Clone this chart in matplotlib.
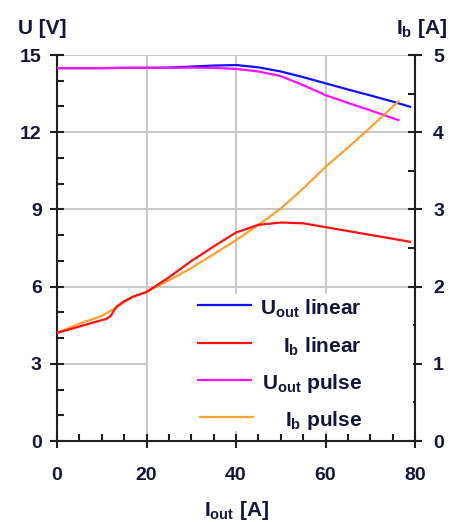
import matplotlib
matplotlib.use("Agg")
import matplotlib.pyplot as plt
from matplotlib.ticker import MultipleLocator
from matplotlib.patches import Rectangle

plt.rcParams["font.family"] = ["Liberation Sans", "DejaVu Sans"]
plt.rcParams["font.weight"] = "bold"
plt.rcParams["mathtext.fontset"] = "custom"
plt.rcParams["mathtext.rm"] = "Liberation Sans:bold"
plt.rcParams["mathtext.bf"] = "Liberation Sans:bold"
plt.rcParams["mathtext.it"] = "Liberation Sans:bold"

# Output voltage, linear regulation
i_u_lin = [0, 5, 10, 15, 20, 25, 30, 35, 40, 45, 50, 55, 60, 65, 70, 75, 78.9]
u_lin = [14.49, 14.49, 14.49, 14.50, 14.50, 14.51, 14.55, 14.59, 14.61, 14.52,
         14.36, 14.14, 13.90, 13.66, 13.43, 13.19, 12.99]

# Output voltage, pulse regulation
i_u_pul = [0, 5, 10, 15, 20, 25, 30, 35, 40, 45, 50, 55, 60, 65, 70, 76.3]
u_pul = [14.49, 14.49, 14.49, 14.50, 14.50, 14.50, 14.51, 14.50, 14.46, 14.36,
         14.18, 13.83, 13.44, 13.14, 12.85, 12.47]

# Base current, linear regulation
i_b_lin_x = [0, 3, 6, 9, 11, 12, 13.3, 15, 17, 20, 25, 30, 35, 40, 45, 50,
             55, 60, 65, 70, 75, 78.9]
ib_lin = [1.40, 1.45, 1.50, 1.55, 1.58, 1.62, 1.74, 1.81, 1.87, 1.93, 2.12,
          2.33, 2.52, 2.70, 2.80, 2.83, 2.82, 2.77, 2.72, 2.67, 2.62, 2.58]

# Base current, pulse regulation
i_b_pul_x = [0, 5, 10, 13, 15, 17, 20, 25, 30, 35, 40, 45, 50, 55, 60, 65,
             70, 76.3]
ib_pul = [1.40, 1.52, 1.62, 1.72, 1.80, 1.87, 1.93, 2.08, 2.24, 2.42, 2.60,
          2.80, 3.01, 3.27, 3.55, 3.80, 4.06, 4.40]

legend_labels = [r"U$_{\mathrm{out}}$ linear", r"I$_{\mathrm{b}}$ linear",
                 r"U$_{\mathrm{out}}$ pulse", r"I$_{\mathrm{b}}$ pulse"]

C_BLUE, C_RED, C_MAG, C_ORA = "#1010ff", "#ff1010", "#ff10ff", "#ffa030"
TXT = "#15153a"
W, H = 454, 522

fig = plt.figure(figsize=(W / 100, H / 100), dpi=100)
ax = fig.add_axes([57 / W, 1 - 441 / H, 358 / W, 386 / H])
ax2 = ax.twinx()

ax.set_xlim(0, 80)
ax.set_ylim(0, 15)
ax2.set_ylim(0, 5)

ax.xaxis.set_major_locator(MultipleLocator(20))
ax.xaxis.set_minor_locator(MultipleLocator(5))
ax.yaxis.set_major_locator(MultipleLocator(3))
ax.yaxis.set_minor_locator(MultipleLocator(1))
ax2.yaxis.set_major_locator(MultipleLocator(1))
ax2.yaxis.set_minor_locator(MultipleLocator(0.5))

ax.grid(True, which="major", color="#c8c8c8", lw=1.4, zorder=0)
ax.set_axisbelow(True)

for a in (ax, ax2):
    a.spines["top"].set_visible(False)
    for s in a.spines.values():
        s.set_linewidth(1.5)
        s.set_color("#202020")
ax2.spines["left"].set_visible(False)
ax2.spines["bottom"].set_visible(False)
ax.spines["right"].set_visible(False)

tick_kw = dict(colors="#202020", labelcolor=TXT, labelsize=14, width=1.5)
ax.tick_params(axis="both", which="major", direction="inout", length=10, **tick_kw)
ax.tick_params(axis="both", which="minor", direction="in", length=5, **tick_kw)
ax.tick_params(axis="y", which="major", pad=6)
ax.tick_params(axis="x", which="major", pad=14)
ax2.tick_params(axis="y", which="major", direction="inout", length=10, pad=8, **tick_kw)
ax2.tick_params(axis="y", which="minor", direction="in", length=5, **tick_kw)

ax.plot(i_u_lin, u_lin, color=C_BLUE, lw=1.6, zorder=3)
ax.plot(i_u_pul, u_pul, color=C_MAG, lw=1.6, zorder=3)
ax2.plot(i_b_pul_x, ib_pul, color=C_ORA, lw=1.6, zorder=2)
ax2.plot(i_b_lin_x, ib_lin, color=C_RED, lw=1.6, zorder=2)

# Key box in the lower right of the plot area
ax2.add_patch(Rectangle((0.255, 0.025), 0.74, 0.357, transform=ax2.transAxes,
                        facecolor="white", edgecolor="none", zorder=5))
row_y = [0.352, 0.254, 0.158, 0.062]
for y, lab, c, dx in zip(row_y, legend_labels, [C_BLUE, C_RED, C_MAG, C_ORA],
                         [0, 0, 0, 0.006]):
    ax2.plot([0.391 + dx, 0.545 + dx], [y, y], color=c, lw=1.6,
             transform=ax2.transAxes, zorder=6, solid_capstyle="butt")
    ax2.text(0.852, y - 0.024, lab, transform=ax2.transAxes, ha="right",
             va="baseline", fontsize=15, color=TXT, zorder=7)

fig.text(42 / W, 1 - 28 / H, "U [V]", ha="center", va="center", fontsize=15, color=TXT)
fig.text(422 / W, 1 - 28 / H, r"I$_{\mathrm{b}}$ [A]", ha="center", va="center",
         fontsize=15, color=TXT)
fig.text(236 / W, 1 - 511 / H, r"I$_{\mathrm{out}}$ [A]", ha="center", va="center",
         fontsize=15, color=TXT)

fig.savefig("out.png", dpi=100)
